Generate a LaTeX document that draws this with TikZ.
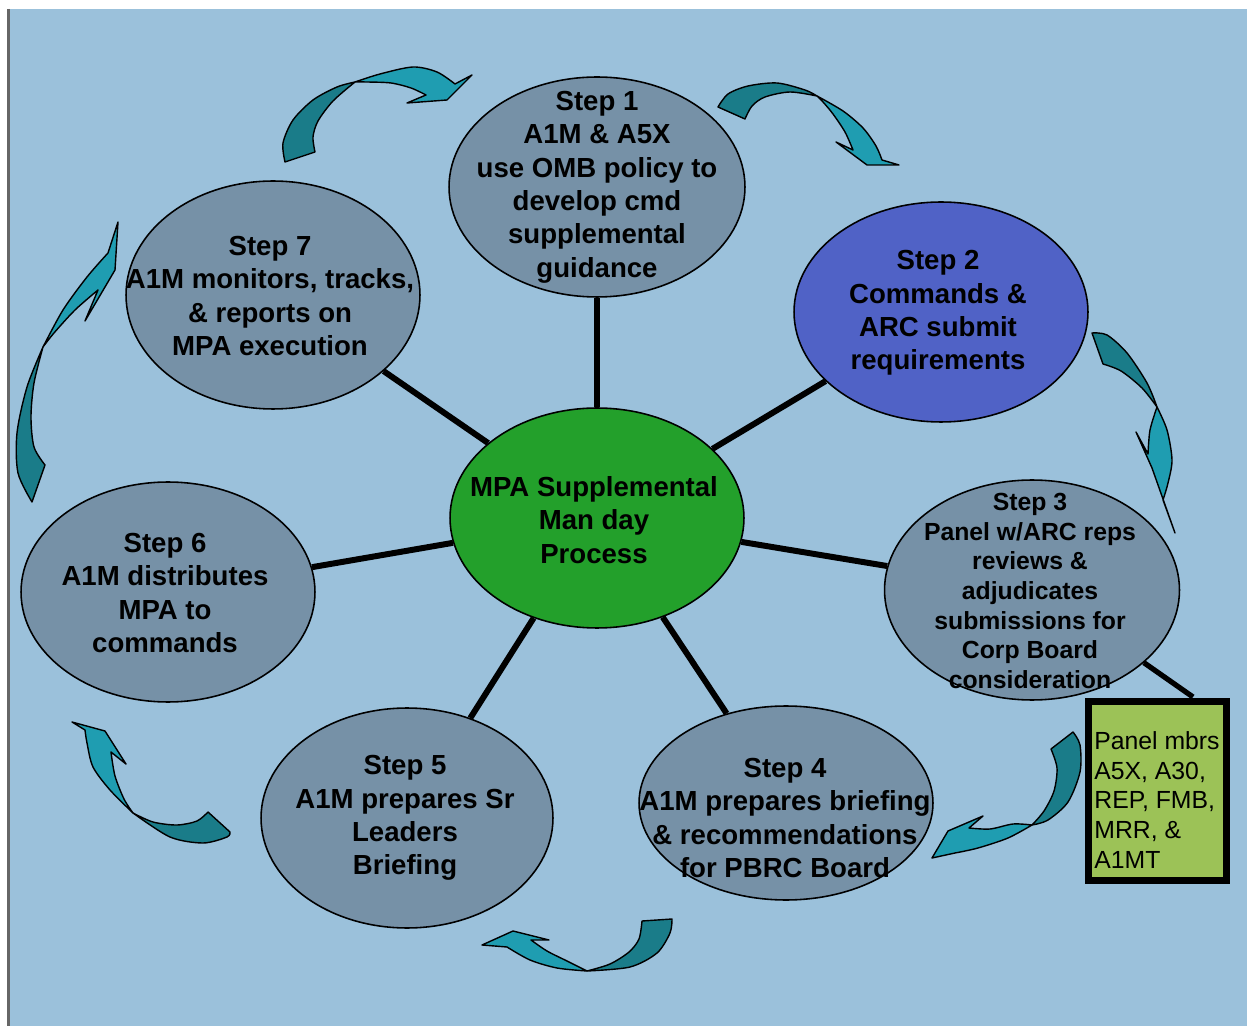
\documentclass[tikz,border=0pt]{standalone}
\usepackage{fontspec}
\setmainfont{Liberation Sans}
\usetikzlibrary{shapes.geometric}
\definecolor{bgblue}{HTML}{9BC1DB}
\definecolor{ellgray}{HTML}{7691A7}
\definecolor{steptwo}{HTML}{5062C6}
\definecolor{centergreen}{HTML}{23A02B}
\definecolor{panelgreen}{HTML}{9CC257}
\definecolor{tealdark}{HTML}{1A7C89}
\definecolor{teallight}{HTML}{1F9DB1}
\tikzset{
  stepell/.style={ellipse, draw=black, line width=0.9pt, fill=ellgray, inner sep=0pt},
  steptext/.style={align=center, inner sep=0pt, font=\bfseries\fontsize{15.7}{19}\selectfont},
  smalltext/.style={align=center, inner sep=0pt, font=\bfseries\fontsize{14.1}{16.9}\selectfont},
  spoke/.style={draw=black, line width=3.4pt},
  adark/.style={fill=tealdark, draw=black, line width=0.8pt, line join=round},
  alight/.style={fill=teallight, draw=black, line width=0.8pt, line join=round},
}
\begin{document}
\begin{tikzpicture}[x=0.02cm, y=-0.02cm]
\useasboundingbox (0,0) rectangle (1247,1026);
\fill[white] (0,0) rectangle (1247,1026);
\fill[bgblue] (9,9) rectangle (1247,1026);
\draw[black!60, line width=1.4pt] (8.5,9) -- (8.5,1026);

% ellipses
\node[stepell, minimum width=5.92cm, minimum height=4.4cm] (s1) at (597,187) {};
\node[stepell, fill=steptwo, minimum width=5.88cm, minimum height=4.4cm] (s2) at (941,312) {};
\node[stepell, minimum width=5.9cm, minimum height=4.4cm] (s3) at (1032,590) {};
\node[stepell, minimum width=5.88cm, minimum height=3.88cm] (s4) at (786,803) {};
\node[stepell, minimum width=5.84cm, minimum height=4.4cm] (s5) at (407,818) {};
\node[stepell, minimum width=5.88cm, minimum height=4.4cm] (s6) at (168,592) {};
\node[stepell, minimum width=5.88cm, minimum height=4.56cm] (s7) at (273,295) {};
\node[stepell, fill=centergreen, minimum width=5.88cm, minimum height=4.4cm] (c) at (597,518) {};

% panel box
\node[draw=black, line width=4pt, fill=panelgreen, minimum width=2.76cm, minimum height=3.58cm, inner sep=0pt] (panel) at (1157.5,791) {};
\coordinate (ptop) at (1193,697);

% spokes
\draw[spoke] (c) -- (s1);
\draw[spoke] (c) -- (s2);
\draw[spoke] (c) -- (s3);
\draw[spoke] (c) -- (s4);
\draw[spoke] (c) -- (s5);
\draw[spoke] (c) -- (s6);
\draw[spoke] (c) -- (s7);
\draw[draw=black, line width=3pt] (s3.-33) -- (ptop);

% curved arrows
% top right (1 -> 2)
\filldraw[adark] plot[smooth] coordinates {(718,107) (728,94) (748,86) (777,83) (805,90) (817,96)}
  -- plot[smooth] coordinates {(817,96) (790,92) (765,97) (752,106) (745,119)} -- cycle;
\filldraw[alight] plot[smooth] coordinates {(817,96) (843,111) (863,128) (876,146) (882,160)}
  -- (899,165) -- (867,165) -- (836,142) -- (853,150)
  -- plot[smooth] coordinates {(853,150) (845,132) (833,114) (823,102) (817,96)} -- cycle;
% right (2 -> 3)
\filldraw[adark] plot[smooth] coordinates {(1092,333) (1107,335) (1127,353) (1147,383) (1157,407)}
  -- plot[smooth] coordinates {(1157,407) (1142,388) (1121,371) (1103,364)} -- cycle;
\filldraw[alight] plot[smooth] coordinates {(1157,407) (1167,430) (1172,460) (1168,483) (1163,500)}
  -- (1175,533) -- (1152,468) -- (1136,432) -- (1148,454)
  -- plot[smooth] coordinates {(1148,454) (1150,430) (1157,407)} -- cycle;
% bottom right (3 -> 4)
\filldraw[adark] plot[smooth] coordinates {(1073,732) (1080,745) (1080,772) (1068,802) (1048,820) (1032,825)}
  -- plot[smooth] coordinates {(1032,825) (1044,811) (1054,791) (1057,768) (1051,749)} -- cycle;
\filldraw[alight] plot[smooth] coordinates {(1032,825) (1008,838) (978,848) (955,853)}
  -- (932,858) -- (948,831) -- (983,816) -- (969,828)
  -- plot[smooth] coordinates {(969,828) (990,829) (1013,824) (1032,825)} -- cycle;
% bottom (4 -> 5)
\filldraw[adark] plot[smooth] coordinates {(672,919) (670,933) (657,953) (630,967) (587,971)}
  -- plot[smooth] coordinates {(587,971) (610,964) (629,952) (639,939) (642,921)} -- cycle;
\filldraw[alight] plot[smooth] coordinates {(587,971) (557,968) (530,960) (507,947)}
  -- (482,945) -- (513,931) -- (549,940) -- (531,940)
  -- plot[smooth] coordinates {(531,940) (547,951) (567,961) (587,971)} -- cycle;
% bottom left (5 -> 6)
\filldraw[adark] plot[smooth] coordinates {(230,832) (227,837) (203,843) (170,837) (133,813)}
  -- plot[smooth] coordinates {(133,813) (153,822) (177,825) (197,821) (208,812)} -- cycle;
\filldraw[alight] plot[smooth] coordinates {(133,813) (110,790) (93,767) (87,743) (85,730)}
  -- (72,722) -- (105,731) -- (126,764) -- (111,752)
  -- plot[smooth] coordinates {(111,752) (115,776) (124,799) (133,813)} -- cycle;
% left (6 -> 7)
\filldraw[adark] plot[smooth] coordinates {(32,502) (18,473) (17,433) (27,387) (43,347)}
  -- plot[smooth] coordinates {(43,347) (34,383) (31,417) (34,447) (45,465)} -- cycle;
\filldraw[alight] plot[smooth] coordinates {(43,347) (63,310) (87,277) (108,253)}
  -- (118,222) -- (115,270) -- (85,321) -- (98,290)
  -- plot[smooth] coordinates {(98,290) (75,310) (54,333) (43,347)} -- cycle;
% top left (7 -> 1)
\filldraw[adark] plot[smooth] coordinates {(285,162) (283,143) (293,120) (313,100) (337,87) (355,82)}
  -- plot[smooth] coordinates {(355,82) (333,101) (318,121) (313,137) (315,152)} -- cycle;
\filldraw[alight] plot[smooth] coordinates {(355,82) (380,74) (413,67) (437,72) (455,84)}
  -- (472,75) -- (447,100) -- (407,103) -- (426,95)
  -- plot[smooth] coordinates {(426,95) (411,88) (391,83) (367,82) (355,82)} -- cycle;

% texts
\node[steptext] (t1) at (597,187) {Step 1\\A1M \& A5X\\use OMB policy to\\develop cmd\\supplemental\\guidance};
\node[steptext] (t2) at (938,313) {Step 2\\Commands \&\\ARC submit\\requirements};
\node[smalltext] (t3) at (1030,591) {Step 3\\Panel w/ARC reps\\reviews \&\\adjudicates\\submissions for\\Corp Board\\consideration};
\node[steptext] (t4) at (785,818) {Step 4\\A1M prepares briefing\\\& recommendations\\for PBRC Board};
\node[steptext] (t5) at (405,818) {Step 5\\A1M prepares Sr\\Leaders\\Briefing};
\node[steptext] (t6) at (165,593) {Step 6\\A1M distributes\\MPA to\\commands};
\node[steptext] (t7) at (270,296) {Step 7\\A1M monitors, tracks,\\\& reports on\\MPA execution};
\node[steptext] (tc) at (594,520) {MPA Supplemental\\Man day\\Process};
\node[anchor=west, align=left, inner sep=0pt, font=\fontsize{14.1}{16.8}\selectfont] (tp) at (1094,800) {Panel mbrs\\A5X, A30,\\REP, FMB,\\MRR, \&\\A1MT};
\end{tikzpicture}
\end{document}
